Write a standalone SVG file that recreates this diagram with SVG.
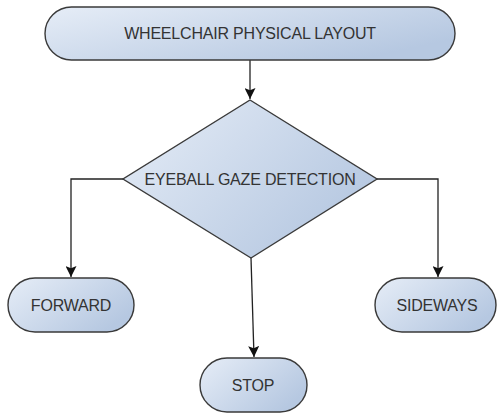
<svg xmlns="http://www.w3.org/2000/svg" width="498" height="413" viewBox="0 0 498 413">
  <style>
    .shape { fill: url(#nodeFill); stroke: #3a3a3a; stroke-width: 1.4; }
    .label { font-family: "Liberation Sans", Arial, sans-serif; font-size: 16px; letter-spacing: -0.2px; fill: #333; text-anchor: middle; dominant-baseline: central; }
    .wire { fill: none; stroke: #222; stroke-width: 1.3; marker-end: url(#arrow); }
  </style>
  <defs>
    <linearGradient id="nodeFill" x1="0" y1="0" x2="1" y2="0.6">
      <stop offset="0" stop-color="#e6edf7"/>
      <stop offset="1" stop-color="#b6c8e1"/>
    </linearGradient>
    <marker id="arrow" viewBox="0 0 10 10" refX="10" refY="5" markerWidth="11" markerHeight="11" markerUnits="userSpaceOnUse" orient="auto">
      <path d="M0,0 L10,5 L0,10 L2,5 Z" fill="#111"/>
    </marker>
  </defs>

  <g id="connectors">
    <path class="wire" d="M250,60 L250,99"/>
    <path class="wire" d="M123,179 L71,179 L71,277"/>
    <path class="wire" d="M377,179 L438,179 L438,277"/>
    <path class="wire" d="M251,258 L254,357"/>
  </g>

  <g id="layout">
    <rect class="shape" x="45" y="7" width="410" height="53" rx="26.5"/>
    <text class="label" x="250" y="33.5">WHEELCHAIR PHYSICAL LAYOUT</text>
  </g>

  <g id="detection">
    <polygon class="shape" points="250,100 377,179 251,258 123,179"/>
    <text class="label" x="250" y="179">EYEBALL GAZE DETECTION</text>
  </g>

  <g id="forward">
    <rect class="shape" x="8" y="278" width="126" height="54" rx="27"/>
    <text class="label" x="71" y="305">FORWARD</text>
  </g>

  <g id="sideways">
    <rect class="shape" x="375" y="278" width="121" height="54" rx="27"/>
    <text class="label" x="437" y="305">SIDEWAYS</text>
  </g>

  <g id="stop">
    <rect class="shape" x="200" y="358" width="107" height="54" rx="27"/>
    <text class="label" x="253" y="385">STOP</text>
  </g>
</svg>
